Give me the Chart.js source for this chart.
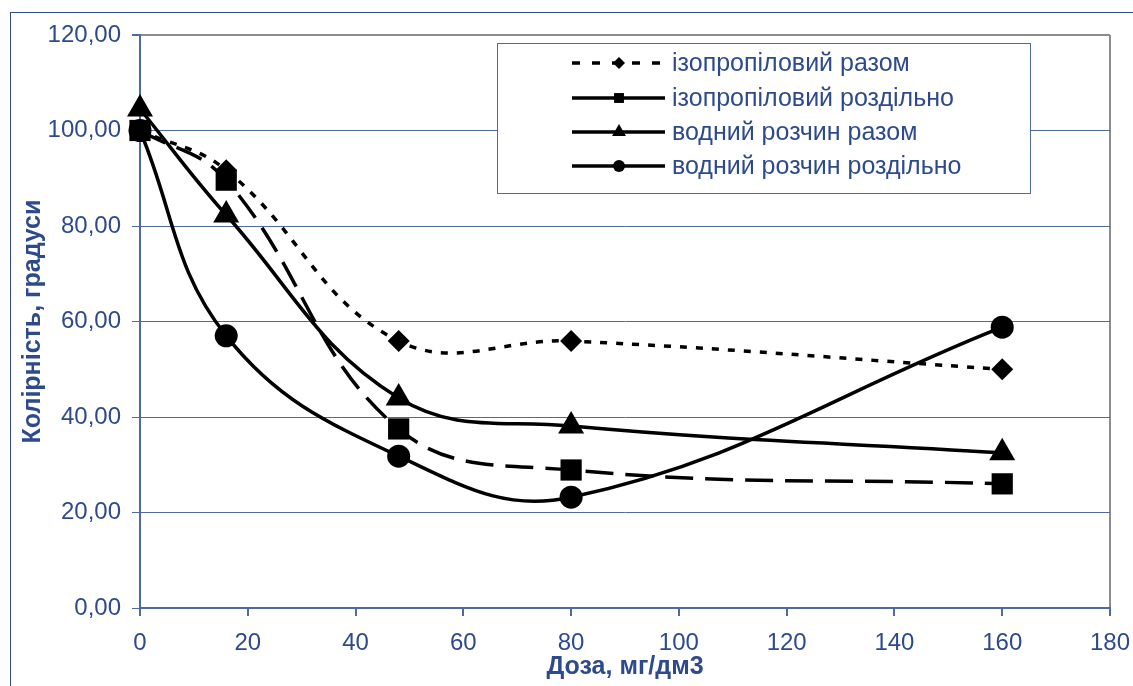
<!DOCTYPE html>
<html>
<head>
<meta charset="utf-8">
<script src="https://cdn.jsdelivr.net/npm/chart.js@4"></script>
<style>
  html, body { margin: 0; padding: 0; background: #fff; }
  #wrap { width: 1133px; height: 686px; position: relative; }
</style>
</head>
<body>
<div id="wrap"><canvas id="chart" width="1133" height="686"></canvas></div>
<script>
// ===== DATA =====
const doses = [0, 16, 48, 80, 160];
const isoTogether = [100, 91.7, 55.9, 55.9, 50];
const isoSeparate = [100, 89.6, 37.5, 28.9, 26];
const waterTogether = [104.5, 82.3, 44, 38.1, 32.5];
const waterSeparate = [100, 57, 31.8, 23.2, 58.8];
const seriesNames = [
  "ізопропіловий разом",
  "ізопропіловий роздільно",
  "водний розчин разом",
  "водний розчин роздільно"
];
const xTitle = "Доза, мг/дм3";
const yTitle = "Колірність, градуси";

const navy = "#2d4b8c";
const gridBlue = "#4f6aa3";
const gray = "#8c8c8c";
const fontFam = "'Liberation Sans', Arial, sans-serif";

function pts(values) {
  return doses.map((d, i) => ({ x: d, y: values[i] }));
}

// ===== LEGEND + FRAME PLUGIN =====
const frame = {
  id: "frame",
  beforeDraw(chart) {
    const c = chart.ctx;
    c.save();
    c.strokeStyle = navy;
    c.lineWidth = 1;
    c.strokeRect(10.5, 12.5, 1300, 900);
    c.restore();
  },
  afterDraw(chart) {
    const c = chart.ctx;
    c.save();
    // legend box
    c.fillStyle = "#fff";
    c.fillRect(497, 43, 533, 150);
    c.strokeStyle = gridBlue;
    c.lineWidth = 1;
    c.strokeRect(497.5, 43.5, 533, 150);

    const rows = [63, 98, 132, 166];
    const sizes = [6, 7, 8, 6];
    chart.data.datasets.forEach((ds, i) => {
      const y = rows[i];
      c.strokeStyle = "#000";
      c.lineWidth = 3.5;
      c.setLineDash(i === 0 ? [8, 12] : []);
      c.beginPath();
      c.moveTo(572, y);
      c.lineTo(665, y);
      c.stroke();
      c.setLineDash([]);
      c.fillStyle = "#000";
      Chart.helpers.drawPoint(c, { pointStyle: ds.pointStyle, radius: sizes[i], borderWidth: 0 }, 619, y);
      c.fillStyle = navy;
      c.font = "25px " + fontFam;
      c.textBaseline = "middle";
      c.textAlign = "left";
      c.fillText(ds.label, 672, y + 1);
    });
    c.restore();
  }
};

// ===== CHART =====
const lineBase = {
  borderColor: "#000",
  backgroundColor: "#000",
  pointBackgroundColor: "#000",
  pointBorderColor: "#000",
  pointBorderWidth: 0,
  borderWidth: 3.5,
  tension: 0.4,
  fill: false,
  clip: false
};

new Chart(document.getElementById("chart"), {
  type: "line",
  data: {
    datasets: [
      Object.assign({}, lineBase, { label: seriesNames[0], data: pts(isoTogether), borderDash: [7, 9], pointStyle: "rectRot", pointRadius: 11 }),
      Object.assign({}, lineBase, { label: seriesNames[1], data: pts(isoSeparate), borderDash: [28, 12], pointStyle: "rect", pointRadius: 15 }),
      Object.assign({}, lineBase, { label: seriesNames[2], data: pts(waterTogether), pointStyle: "triangle", pointRadius: 15 }),
      Object.assign({}, lineBase, { label: seriesNames[3], data: pts(waterSeparate), pointStyle: "circle", pointRadius: 11.5 })
    ]
  },
  options: {
    responsive: false,
    animation: false,
    layout: { padding: { left: 0, top: 35, right: 23, bottom: 0 } },
    plugins: {
      legend: { display: false },
      tooltip: { enabled: false }
    },
    scales: {
      x: {
        type: "linear",
        min: 0,
        max: 180,
        afterFit: s => { s.height = 78; s.paddingRight = 0; s.paddingLeft = 0; },
        ticks: {
          stepSize: 20,
          color: navy,
          padding: 13,
          maxRotation: 0,
          font: { family: fontFam, size: 24 }
        },
        grid: {
          color: ctx => (ctx.tick && ctx.tick.value === 180 ? gray : "rgba(0,0,0,0)"),
          tickColor: gridBlue,
          tickLength: 8,
          lineWidth: 2
        },
        border: { color: gridBlue, width: 2 },
        title: {
          display: true,
          text: xTitle,
          color: navy,
          padding: { top: 0, bottom: 4 },
          font: { family: fontFam, size: 25, weight: "bold" }
        }
      },
      y: {
        min: 0,
        max: 120,
        afterFit: s => { s.width = 140; },
        ticks: {
          stepSize: 20,
          color: navy,
          padding: 11,
          callback: v => v.toFixed(2).replace(".", ","),
          font: { family: fontFam, size: 24 }
        },
        grid: {
          color: ctx => (ctx.tick && ctx.tick.value === 120 ? gray : gridBlue),
          tickColor: gridBlue,
          tickLength: 8,
          lineWidth: ctx => (ctx.tick && ctx.tick.value === 120 ? 2 : 1)
        },
        border: { color: gridBlue, width: 2 },
        title: {
          display: true,
          text: yTitle,
          color: navy,
          padding: { top: 18, bottom: 0 },
          font: { family: fontFam, size: 25, weight: "bold" }
        }
      }
    }
  },
  plugins: [frame]
});
</script>
</body>
</html>
